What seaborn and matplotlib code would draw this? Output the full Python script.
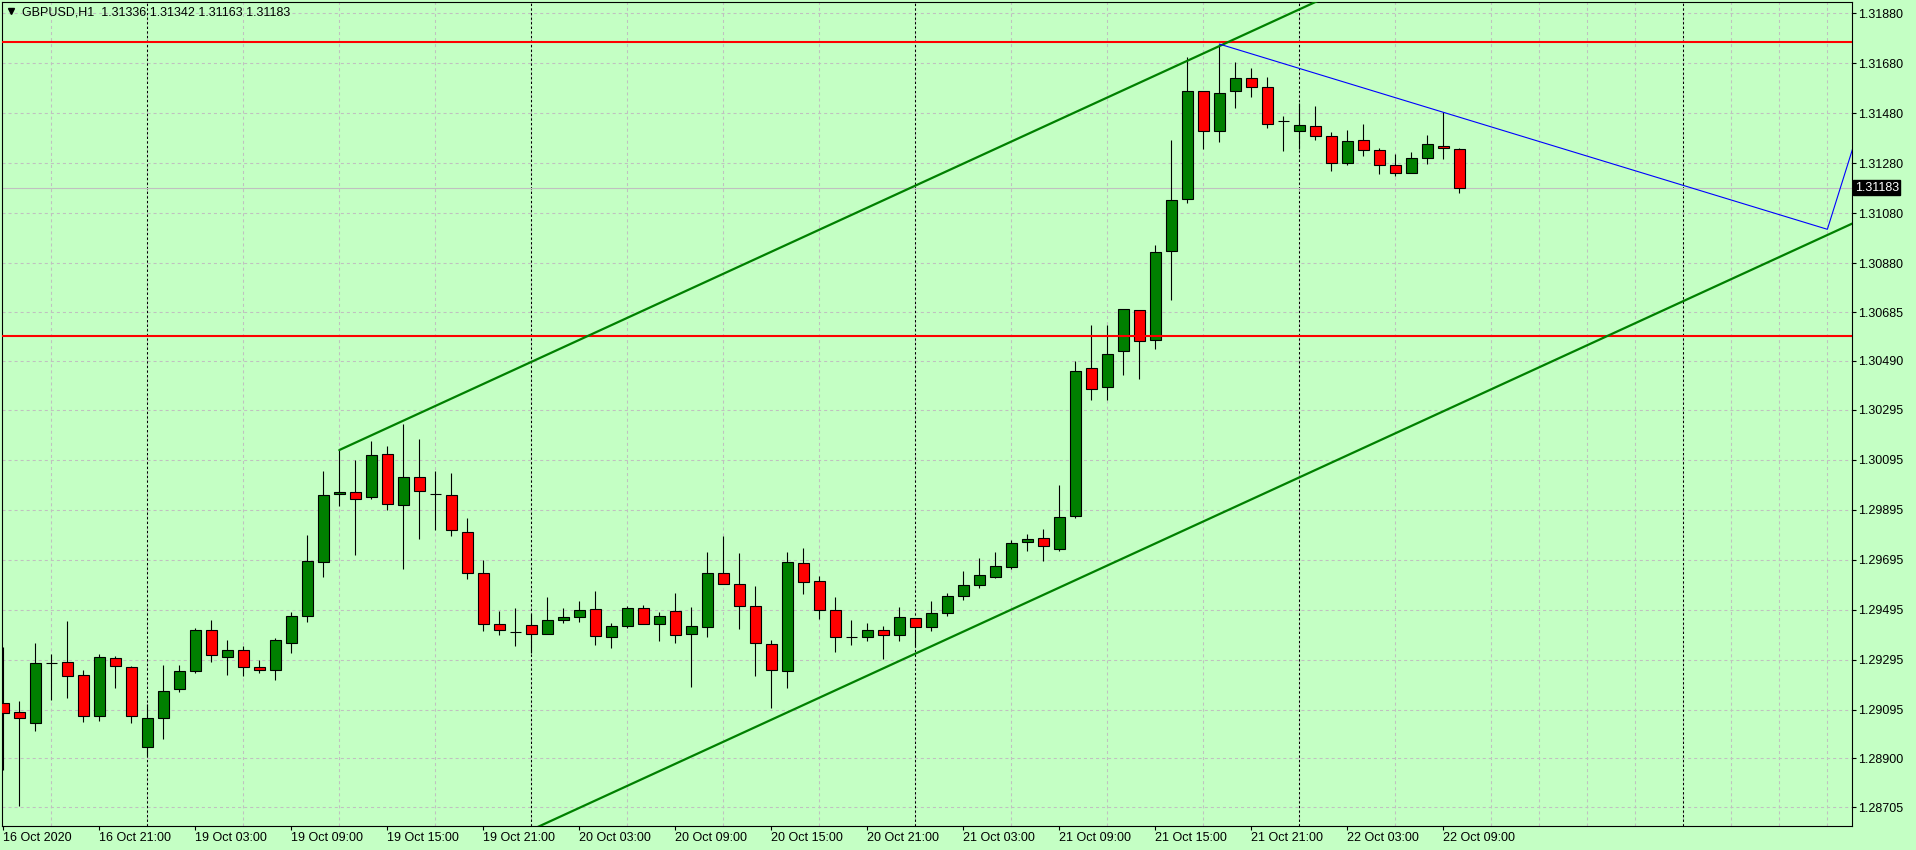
import matplotlib
matplotlib.use("Agg")
import matplotlib.pyplot as plt
import seaborn as sns
import numpy as np

# GBPUSD H1 bars, index 0 = 16 Oct 15:00
symbol = "GBPUSD,H1"
opens = [1.29120, 1.29084, 1.29040, 1.29280, 1.29284, 1.29232, 1.29070, 1.29300, 1.29264, 1.28944,
         1.29060, 1.29176, 1.29248, 1.29412, 1.29304, 1.29332, 1.29264, 1.29252, 1.29360, 1.29468,
         1.29686, 1.29956, 1.29964, 1.29946, 1.30116, 1.29912, 1.30024, 1.29957, 1.29952, 1.29804,
         1.29640, 1.29436, 1.29406, 1.29432, 1.29396, 1.29452, 1.29464, 1.29496, 1.29384, 1.29428,
         1.29500, 1.29436, 1.29488, 1.29396, 1.29424, 1.29640, 1.29596, 1.29508, 1.29356, 1.29248,
         1.29680, 1.29608, 1.29492, 1.29384, 1.29384, 1.29412, 1.29392, 1.29460, 1.29424, 1.29480,
         1.29548, 1.29592, 1.29625, 1.29665, 1.29765, 1.29781, 1.29736, 1.29868, 1.30461, 1.30384,
         1.30530, 1.30695, 1.30573, 1.30930, 1.31136, 1.31568, 1.31408, 1.31568, 1.31620, 1.31584,
         1.31449, 1.31408, 1.31428, 1.31388, 1.31280, 1.31372, 1.31332, 1.31272, 1.31240, 1.31300,
         1.31348, 1.31336]
highs = [1.29346, 1.29129, 1.29362, 1.29317, 1.29449, 1.29253, 1.29317, 1.29309, 1.29270, 1.29116,
         1.29273, 1.29273, 1.29420, 1.29453, 1.29373, 1.29349, 1.29293, 1.29380, 1.29484, 1.29793,
         1.30049, 1.30133, 1.30093, 1.30169, 1.30149, 1.30237, 1.30176, 1.30049, 1.30041, 1.29860,
         1.29692, 1.29489, 1.29500, 1.29476, 1.29545, 1.29500, 1.29529, 1.29569, 1.29440, 1.29509,
         1.29512, 1.29484, 1.29562, 1.29504, 1.29724, 1.29789, 1.29720, 1.29589, 1.29372, 1.29725,
         1.29741, 1.29629, 1.29544, 1.29453, 1.29440, 1.29428, 1.29504, 1.29460, 1.29528, 1.29560,
         1.29648, 1.29700, 1.29727, 1.29773, 1.29799, 1.29819, 1.29992, 1.30488, 1.30632, 1.30635,
         1.30698, 1.30695, 1.30953, 1.31373, 1.31704, 1.31568, 1.31757, 1.31684, 1.31660, 1.31624,
         1.31469, 1.31520, 1.31509, 1.31405, 1.31413, 1.31437, 1.31340, 1.31316, 1.31324, 1.31392,
         1.31484, 1.31342]
lows = [1.28853, 1.28710, 1.29010, 1.29133, 1.29142, 1.29046, 1.29050, 1.29182, 1.29042, 1.28909,
        1.28978, 1.29166, 1.29242, 1.29286, 1.29234, 1.29230, 1.29242, 1.29213, 1.29320, 1.29446,
        1.29626, 1.29909, 1.29713, 1.29937, 1.29894, 1.29658, 1.29778, 1.29814, 1.29790, 1.29618,
        1.29410, 1.29394, 1.29350, 1.29322, 1.29396, 1.29442, 1.29446, 1.29354, 1.29340, 1.29420,
        1.29436, 1.29370, 1.29362, 1.29184, 1.29386, 1.29596, 1.29418, 1.29230, 1.29100, 1.29180,
        1.29558, 1.29458, 1.29326, 1.29353, 1.29370, 1.29296, 1.29370, 1.29346, 1.29410, 1.29468,
        1.29532, 1.29580, 1.29620, 1.29658, 1.29730, 1.29690, 1.29730, 1.29861, 1.30335, 1.30335,
        1.30432, 1.30419, 1.30536, 1.30732, 1.31120, 1.31336, 1.31366, 1.31502, 1.31546, 1.31422,
        1.31330, 1.31337, 1.31373, 1.31250, 1.31272, 1.31310, 1.31238, 1.31230, 1.31240, 1.31278,
        1.31298, 1.31163]
closes = [1.29080, 1.29060, 1.29280, 1.29280, 1.29230, 1.29070, 1.29304, 1.29270, 1.29068, 1.29060,
          1.29169, 1.29249, 1.29412, 1.29312, 1.29332, 1.29264, 1.29252, 1.29372, 1.29468, 1.29688,
          1.29952, 1.29964, 1.29938, 1.30112, 1.29916, 1.30024, 1.29968, 1.29957, 1.29812, 1.29640,
          1.29436, 1.29412, 1.29406, 1.29396, 1.29452, 1.29464, 1.29492, 1.29388, 1.29428, 1.29500,
          1.29436, 1.29468, 1.29392, 1.29428, 1.29640, 1.29596, 1.29508, 1.29360, 1.29252, 1.29684,
          1.29604, 1.29492, 1.29384, 1.29384, 1.29412, 1.29392, 1.29464, 1.29424, 1.29480, 1.29548,
          1.29592, 1.29632, 1.29671, 1.29761, 1.29778, 1.29748, 1.29865, 1.30450, 1.30379, 1.30518,
          1.30698, 1.30570, 1.30927, 1.31132, 1.31568, 1.31408, 1.31560, 1.31620, 1.31584, 1.31436,
          1.31449, 1.31432, 1.31388, 1.31280, 1.31368, 1.31332, 1.31272, 1.31240, 1.31300, 1.31356,
          1.31340, 1.31183]

tick_bars = [0, 6, 12, 18, 24, 30, 36, 42, 48, 54, 60, 66, 72, 78, 84, 90]
tick_labels = ["16 Oct 2020", "16 Oct 21:00", "19 Oct 03:00", "19 Oct 09:00", "19 Oct 15:00",
               "19 Oct 21:00", "20 Oct 03:00", "20 Oct 09:00", "20 Oct 15:00", "20 Oct 21:00",
               "21 Oct 03:00", "21 Oct 09:00", "21 Oct 15:00", "21 Oct 21:00", "22 Oct 03:00",
               "22 Oct 09:00"]
day_breaks = [9, 33, 57, 81, 105]
price_ticks = [1.28705, 1.28900, 1.29095, 1.29295, 1.29495, 1.29695, 1.29895, 1.30095, 1.30295,
               1.30490, 1.30685, 1.30880, 1.31080, 1.31280, 1.31480, 1.31680, 1.31880]

# drawn objects
hlines = [1.31766, 1.30589]
channel_x = [21, 116]
channel_upper = [1.30133, 1.32924]
channel_lower = [1.28261, 1.31052]
trend_x = [76, 114, 116]
trend_y = [1.31757, 1.31016, 1.31424]

bg = "#c4ffc4"
bull = "#008000"
bear = "#ff0000"

sns.set_theme(style="ticks", rc={"axes.facecolor": bg, "figure.facecolor": bg,
                                 "axes.edgecolor": "black", "axes.linewidth": 0.8})
plt.rcParams["font.family"] = ["Liberation Sans", "DejaVu Sans"]

fig = plt.figure(figsize=(19.16, 8.5), dpi=100)
ax = fig.add_axes([2 / 1916, 1 - 826 / 850, 1850 / 1916, 824 / 850])

n = len(opens)
idx = np.arange(n)
o = np.array(opens)
c = np.array(closes)

# grid
ax.set_xticks(np.arange(0, 116, 3), minor=True)
ax.grid(which="minor", axis="x", color="#c0c0c0", lw=0.75, ls=(0, (2.9, 2.9)))
ax.grid(which="major", axis="y", color="#c0c0c0", lw=0.75, ls=(0, (2.9, 2.9)))
ax.grid(which="major", axis="x", visible=False)
for d in day_breaks:
    ax.axvline(d, color="black", lw=0.75, ls=(0, (2.2, 2.2)), zorder=1)

ax.axhline(closes[-1], color="#c0c0c0", lw=0.8, zorder=1.5)

# candles
ax.vlines(idx, lows, highs, color="black", lw=0.8, zorder=2)
colors = [bull if cc > oo else (bear if cc < oo else "black") for oo, cc in zip(o, c)]
ax.bar(idx, np.abs(c - o), bottom=np.minimum(o, c), width=0.66, color=colors,
       edgecolor="black", linewidth=0.8, zorder=3)

for h in hlines:
    ax.axhline(h, color=bear, lw=1.5, zorder=4)
sns.lineplot(x=channel_x, y=channel_upper, ax=ax, color=bull, lw=1.6, zorder=4)
sns.lineplot(x=channel_x, y=channel_lower, ax=ax, color=bull, lw=1.6, zorder=4)
sns.lineplot(x=trend_x, y=trend_y, ax=ax, color="#0000ff", lw=0.8, zorder=4, sort=False)

ax.set_xlim(-0.08, 115.54)
ax.set_ylim(1.286292, 1.319252)

ax.set_xticks(tick_bars)
ax.set_xticklabels(tick_labels, fontsize=9, color="black", ha="left")
ax.yaxis.tick_right()
ax.set_yticks(price_ticks)
ax.set_yticklabels([f"{v:.5f}" for v in price_ticks], fontsize=9, color="black")
ax.tick_params(axis="both", which="major", length=2.6, width=0.8, color="black", pad=2)
ax.tick_params(axis="x", which="minor", length=0)
ax.set_xlabel("")
ax.set_ylabel("")
for s in ax.spines.values():
    s.set_visible(True)
    s.set_color("black")

# current price box
ax.annotate(f"{closes[-1]:.5f}", xy=(1.0015, closes[-1]), xycoords=("axes fraction", "data"),
            ha="left", va="center", fontsize=9, color="white", annotation_clip=False,
            bbox=dict(boxstyle="square,pad=0.12", fc="black", ec="black"))

# header
ax.plot([0.0049], [0.9885], marker="v", color="black", ms=5, transform=ax.transAxes, clip_on=False)
ax.text(0.0107, 0.9875,
        f"{symbol}  {opens[-1]:.5f} {highs[-1]:.5f} {lows[-1]:.5f} {closes[-1]:.5f}",
        transform=ax.transAxes, ha="left", va="center", fontsize=9, color="black")

fig.savefig("out.png", dpi=100, facecolor=bg)
